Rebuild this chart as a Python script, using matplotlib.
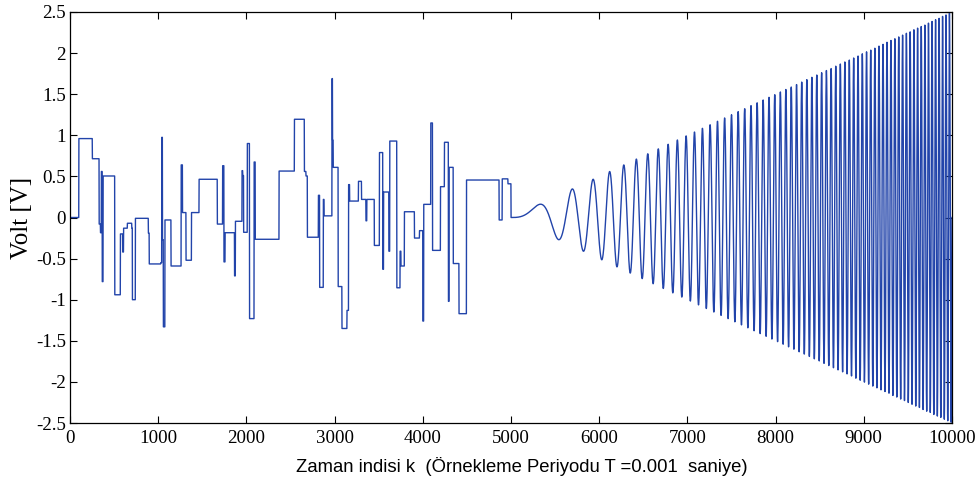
import numpy as np
import matplotlib
matplotlib.use("Agg")
import matplotlib.pyplot as plt

# ---- data ----
# piecewise-constant part (0 .. 5000): segment start index and level [V]
step_starts = [0, 100, 253, 330, 345, 355, 365, 375, 507, 571, 597, 607, 650, 700, 707,
               741, 888, 898, 1028, 1040, 1048, 1058, 1068, 1076, 1145, 1260, 1275, 1315,
               1377, 1463, 1670, 1730, 1745, 1758, 1865, 1875, 1950, 1958, 1968, 2010,
               2035, 2087, 2100, 2370, 2544, 2657, 2675, 2691, 2816, 2830, 2872, 2880,
               2970, 2976, 2984, 3040, 3083, 3140, 3158, 3170, 3270, 3305, 3355, 3365,
               3450, 3508, 3546, 3555, 3615, 3625, 3705, 3742, 3752, 3791, 3905, 3962,
               4000, 4010, 4090, 4110, 4200, 4245, 4290, 4298, 4345, 4410, 4495, 4865,
               4900, 4965]
step_levels = [0.0, 0.96, 0.715, -0.08, -0.185, 0.56, -0.78, 0.505, -0.94, -0.20, -0.42, -0.13,
               -0.07, -0.13, -1.0, -0.01, -0.19, -0.565, -0.55, 0.975, -0.27, -1.33, -1.33,
               -0.03, -0.59, 0.64, 0.06, -0.52, 0.06, 0.465, -0.08, 0.63, -0.54, -0.185,
               -0.71, -0.046, 0.57, 0.51, -0.18, 0.90, -1.23, 0.675, -0.265, 0.565, 1.195,
               0.56, 0.505, -0.24, 0.27, -0.85, 0.22, 0.02, 1.69, 0.94, 0.61, -0.84, -1.35,
               -1.13, 0.40, 0.20, 0.44, 0.22, -0.04, 0.22, -0.34, 0.79, -0.63, 0.31, -0.41,
               0.93, -0.855, -0.41, -0.59, 0.07, -0.25, -0.16, -1.26, 0.16, 1.15, -0.40,
               0.375, 0.915, -1.02, 0.61, -0.56, -1.17, 0.456, -0.03, 0.47, 0.41]
# swept-sine part: start/end index, end amplitude [V], end frequency [Hz]
chirp_start = 5000
chirp_end = 10000
chirp_end_amp = 2.5
chirp_end_freq = 26.0
sample_period = 0.001

x_ticks = [0, 1000, 2000, 3000, 4000, 5000, 6000, 7000, 8000, 9000, 10000]
y_ticks = [-2.5, -2, -1.5, -1, -0.5, 0, 0.5, 1, 1.5, 2, 2.5]
x_label = "Zaman indisi k  (Örnekleme Periyodu T =0.001  saniye)"
y_label = "Volt [V]"

# ---- build the sample sequence ----
k = np.arange(0, chirp_end + 1)
u = np.zeros(k.size)
bounds = step_starts + [chirp_start]
for i, lvl in enumerate(step_levels):
    u[bounds[i]:bounds[i + 1]] = lvl
tc = (k[chirp_start:] - chirp_start) * sample_period
dur = (chirp_end - chirp_start) * sample_period
u[chirp_start:] = chirp_end_amp * tc / dur * np.sin(np.pi * chirp_end_freq / dur * tc ** 2)

# ---- figure ----
fig = plt.figure(figsize=(9.79, 4.79), dpi=100)
ax = fig.add_axes([70 / 979, 1 - 423 / 479, (952 - 70) / 979, (423 - 12) / 479])
ax.plot(k, u, color="#2244aa", linewidth=1.0)
ax.set_xlim(0, 10000)
ax.set_ylim(-2.5, 2.5)
ax.set_xticks(x_ticks)
ax.set_yticks(y_ticks)
ax.set_xticklabels([str(v) for v in x_ticks], family="Liberation Serif", fontsize=13.6)
ax.set_yticklabels([("%g" % v) for v in y_ticks], family="Liberation Serif", fontsize=13.6)
ax.tick_params(direction="in", length=5, width=0.8, top=True, right=True)
ax.tick_params(axis="x", pad=5)
ax.tick_params(axis="y", pad=3)
for s in ax.spines.values():
    s.set_linewidth(0.9)
ax.set_xlabel(x_label, family=["Liberation Sans Narrow", "Liberation Sans", "DejaVu Sans"],
              fontsize=13.3)
ax.xaxis.set_label_coords(0.512, -0.083)
ax.set_ylabel(y_label, family="Liberation Serif", fontsize=18, labelpad=2)
fig.savefig("out.png", dpi=100)
